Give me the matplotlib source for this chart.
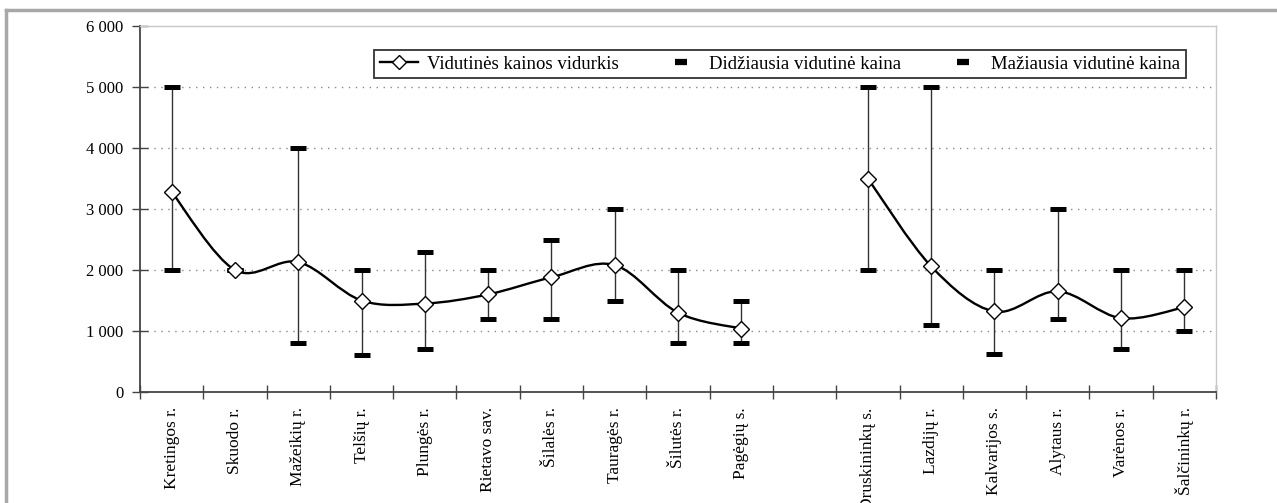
import numpy as np
import matplotlib.pyplot as plt
from matplotlib.path import Path
from matplotlib.patches import PathPatch
from matplotlib.lines import Line2D
from matplotlib.ticker import FuncFormatter

plt.rcParams['font.family'] = ['Liberation Serif', 'DejaVu Serif']

# vakarų regionas
west = ['Kretingos r.', 'Skuodo r.', 'Mažeikių r.', 'Telšių r.', 'Plungės r.',
        'Rietavo sav.', 'Šilalės r.', 'Tauragės r.', 'Šilutės r.', 'Pagėgių s.']
west_avg = [3280, 2000, 2130, 1500, 1450, 1600, 1880, 2080, 1300, 1040]
west_max = [5000, 2000, 4000, 2000, 2300, 2000, 2500, 3000, 2000, 1500]
west_min = [2000, 2000, 800, 600, 700, 1200, 1200, 1500, 800, 800]

# pietų regionas
south = ['Druskininkų s.', 'Lazdijų r.', 'Kalvarijos s.', 'Alytaus r.',
         'Varėnos r.', 'Šalčininkų r.']
south_avg = [3500, 2060, 1320, 1650, 1210, 1390]
south_max = [5000, 5000, 2000, 3000, 2000, 2000]
south_min = [2000, 1100, 630, 1200, 700, 1000]

yticks = [0, 1000, 2000, 3000, 4000, 5000, 6000]


def smooth_path(x, y):
    # Excel-like smoothed line (Catmull-Rom as cubic Bezier)
    p = np.column_stack([x, y]).astype(float)
    ext = np.vstack([p[0], p, p[-1]])
    verts = [p[0]]
    codes = [Path.MOVETO]
    for i in range(len(p) - 1):
        a, b, c, d = ext[i], ext[i + 1], ext[i + 2], ext[i + 3]
        verts += [b + (c - a) / 6, c - (d - b) / 6, c]
        codes += [Path.CURVE4] * 3
    return Path(verts, codes)


fig = plt.figure(figsize=(12.77, 5.03), dpi=100)
W, H = 1277, 503
ax = fig.add_axes([140 / W, 1 - 392 / H, (1216 - 140) / W, (392 - 26) / H])

groups = [(np.arange(len(west)) + 0.5, west_avg, west_max, west_min),
          (np.arange(len(south)) + 11.5, south_avg, south_max, south_min)]

for xs, avg, hi, lo in groups:
    ax.vlines(xs, lo, hi, color='#333333', lw=1.0, zorder=2)
    ax.plot(xs, hi, ls='none', marker='_', ms=11.5, mew=3.6, color='black', zorder=3)
    ax.plot(xs, lo, ls='none', marker='_', ms=11.5, mew=3.6, color='black', zorder=3)
    ax.add_patch(PathPatch(smooth_path(xs, avg), fill=False, ec='black', lw=1.7, zorder=4))
    ax.plot(xs, avg, ls='none', marker='D', ms=8.5, mfc='white', mec='black', mew=1.0, zorder=5)

ax.set_xlim(0, 17)
ax.set_ylim(0, 6000)
ax.set_yticks(yticks)
ax.yaxis.set_major_formatter(FuncFormatter(lambda v, p: f'{int(v):,}'.replace(',', ' ')))
ax.set_xticks(np.arange(18))
ax.set_xticklabels([])
centers = list(np.arange(len(west)) + 0.5) + [10.5] + list(np.arange(len(south)) + 11.5)
ax.set_xticks(centers, minor=True)
ax.set_xticklabels(west + [''] + south, minor=True, rotation=90, fontsize=12.5)
ax.tick_params(axis='x', which='minor', length=0, pad=11)
ax.tick_params(axis='x', which='major', direction='inout', length=10, width=1, color='#444444')
ax.tick_params(axis='y', direction='inout', length=12, width=1, color='#444444',
               labelsize=12, pad=6)

for v in yticks[1:-1]:
    ax.axhline(v, color='#8a8a8a', lw=1.0, ls=(0, (1, 4)), zorder=1)

for s in ['left', 'bottom']:
    ax.spines[s].set_color('#444444')
    ax.spines[s].set_linewidth(1.3)
for s in ['top', 'right']:
    ax.spines[s].set_color('#c8c8c8')
    ax.spines[s].set_linewidth(1.0)

handles = [
    Line2D([], [], color='black', lw=1.7, marker='D', ms=7, mfc='white', mec='black'),
    Line2D([], [], ls='none', marker='_', ms=9, mew=4.5, color='black'),
    Line2D([], [], ls='none', marker='_', ms=9, mew=4.5, color='black'),
]
labels = ['Vidutinės kainos vidurkis', 'Didžiausia vidutinė kaina',
          'Mažiausia vidutinė kaina']
leg = fig.legend(handles, labels, ncol=3, mode='expand', loc='center',
                 bbox_to_anchor=(365 / W, 1 - 80 / H, (1195 - 365) / W, 32 / H),
                 fancybox=False, edgecolor='#333333', fontsize=13.5,
                 handlelength=2.0, handletextpad=0.5, borderpad=0.3,
                 framealpha=1)
leg.get_frame().set_linewidth(1.3)

# outer frame of the figure
fig.add_artist(Line2D([6 / W, 1], [1 - 10 / H, 1 - 10 / H], color='#a8a8a8', lw=2.5,
                      transform=fig.transFigure))
fig.add_artist(Line2D([6 / W, 6 / W], [0, 1 - 10 / H], color='#a8a8a8', lw=2.5,
                      transform=fig.transFigure))

fig.savefig('out.png', dpi=100)
